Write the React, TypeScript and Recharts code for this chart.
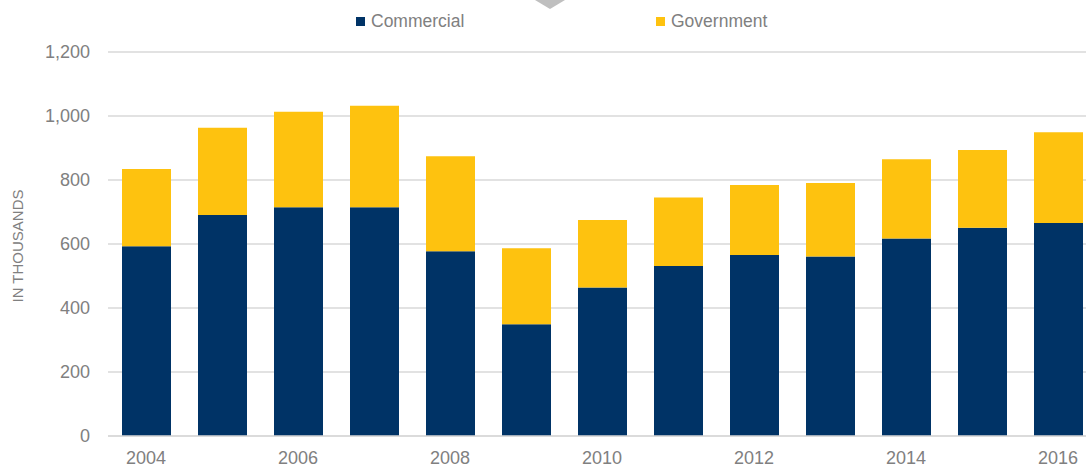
import React from "react";
import { BarChart, Bar, XAxis, YAxis, CartesianGrid } from "recharts";

const years = [
  "2004", "2005", "2006", "2007", "2008", "2009", "2010",
  "2011", "2012", "2013", "2014", "2015", "2016",
];
const commercial = [593, 691, 715, 715, 577, 349, 464, 531, 566, 561, 617, 651, 666];
const government = [241, 272, 298, 317, 297, 238, 211, 214, 218, 230, 248, 243, 283];
const yTicks = [0, 200, 400, 600, 800, 1000, 1200];

const NAVY = "#003366";
const GOLD = "#FEC20F";
const GRAY = "#808080";
const FONT = "'Liberation Sans', Arial, sans-serif";

const data = years.map((year, i) => ({
  year,
  commercial: commercial[i],
  government: government[i],
}));

const legendItems = [
  { name: "Commercial", color: NAVY },
  { name: "Government", color: GOLD },
];

// legend sits above the plot, drawn as plain html so it doesn't push the plot down
function TopLegend() {
  return (
    <div
      style={{
        position: "absolute",
        top: 11,
        left: 356,
        display: "flex",
        fontFamily: FONT,
        zIndex: 2,
      }}
    >
      {legendItems.map((p) => (
        <div
          key={p.name}
          style={{ display: "flex", alignItems: "center", width: 300 }}
        >
          <span
            style={{
              width: 9,
              height: 9,
              background: p.color,
              marginRight: 6,
              display: "inline-block",
            }}
          />
          <span style={{ color: GRAY, fontSize: 17.5, lineHeight: "20px" }}>
            {p.name}
          </span>
        </div>
      ))}
    </div>
  );
}

function AxisTitle() {
  return (
    <text
      x={17}
      y={246}
      transform="rotate(-90 17 246)"
      textAnchor="middle"
      dominantBaseline="central"
      fill={GRAY}
      fontSize={15}
      fontFamily={FONT}
    >
      IN THOUSANDS
    </text>
  );
}

export default function App() {
  return (
    <div
      style={{
        position: "absolute",
        left: 0,
        top: 0,
        width: 1086,
        height: 467,
        overflow: "hidden",
        background: "#fff",
      }}
    >
      <svg
        width={1086}
        height={12}
        style={{ position: "absolute", left: 0, top: 0, zIndex: 2 }}
      >
        <polygon points="535,0 565,0 550,9" fill="#BFBFBF" />
      </svg>
      <TopLegend />
      <BarChart
        width={1100}
        height={467}
        data={data}
        margin={{ top: 52, right: 4, bottom: 0, left: 0 }}
      >
        <CartesianGrid vertical={false} stroke="#D9D9D9" strokeWidth={1.5} />
        <XAxis
          dataKey="year"
          interval={1}
          height={31}
          tickLine={false}
          axisLine={{ stroke: "#D9D9D9", strokeWidth: 1.5 }}
          tickMargin={9}
          tick={{ fill: GRAY, fontSize: 18, fontFamily: FONT }}
        />
        <YAxis
          width={108}
          domain={[0, 1200]}
          ticks={yTicks}
          tickLine={false}
          axisLine={false}
          tickMargin={12}
          tickFormatter={(v: number) => v.toLocaleString("en-US")}
          tick={{ fill: GRAY, fontSize: 18, fontFamily: FONT }}
          label={<AxisTitle />}
        />
        <Bar
          dataKey="commercial"
          name="Commercial"
          stackId="a"
          fill={NAVY}
          barSize={49}
          isAnimationActive={false}
        />
        <Bar
          dataKey="government"
          name="Government"
          stackId="a"
          fill={GOLD}
          barSize={49}
          isAnimationActive={false}
        />
      </BarChart>
    </div>
  );
}
